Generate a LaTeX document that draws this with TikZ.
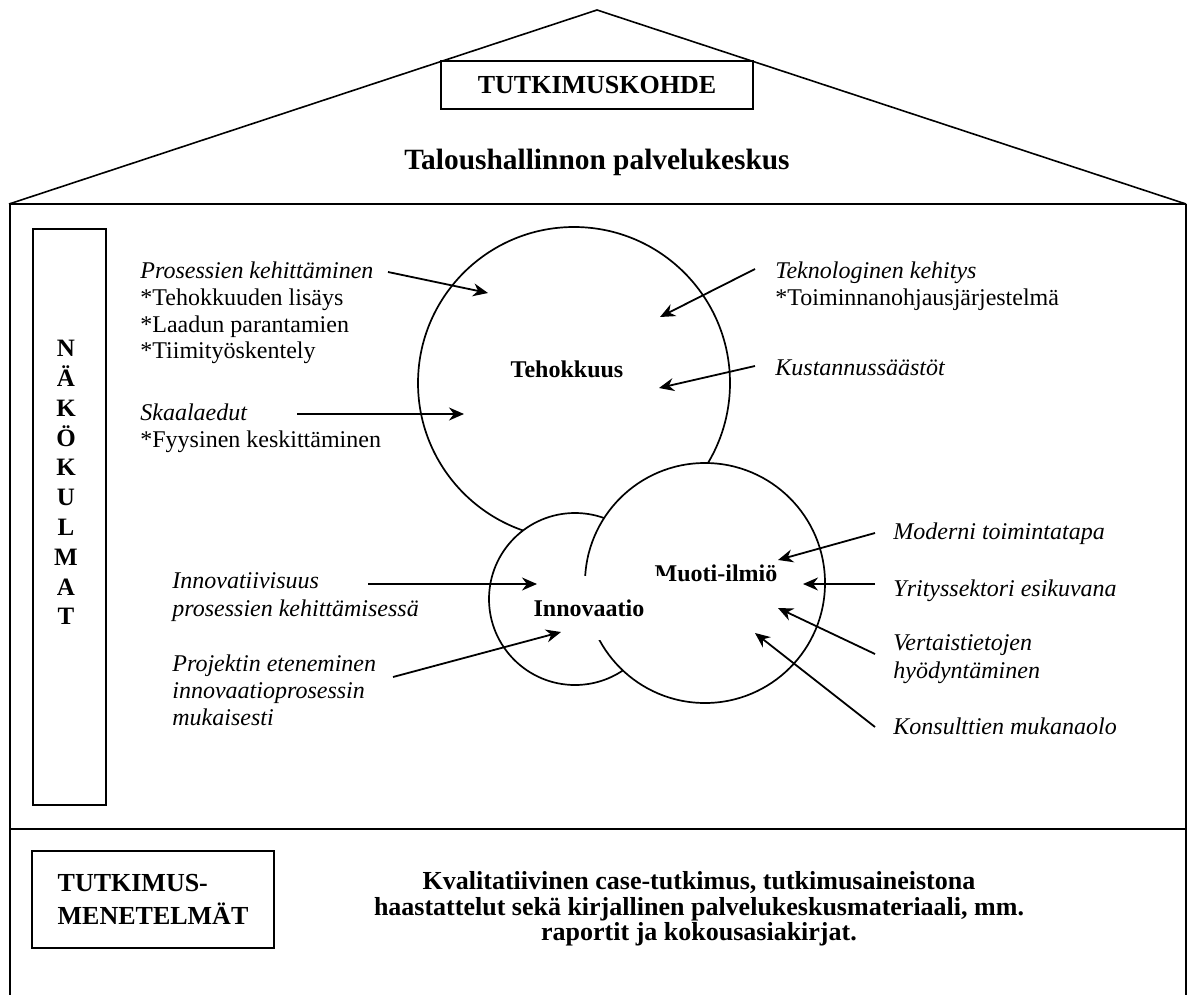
\documentclass[tikz,border=0pt]{standalone}
\usepackage{fontspec}
\setmainfont{Liberation Serif}
\usetikzlibrary{positioning, arrows.meta}
\tikzset{
  wall/.style={line width=1.1pt},
  roof/.style={line width=0.8pt},
  hbox/.style={draw, fill=white, line width=1pt, inner sep=0pt, font=\fontsize{13}{16.5}\selectfont\bfseries},
  circ/.style={circle, draw, fill=white, line width=0.85pt, inner sep=0pt},
  lbl/.style={font=\fontsize{12}{13.4}\selectfont\bfseries, inner sep=0pt},
  cause/.style={align=left, anchor=north west, inner sep=0pt, font=\fontsize{12}{13.4}\selectfont},
  into/.style={-{Stealth[length=7.5pt, width=6.5pt]}, line width=0.9pt},
}
\begin{document}
\begin{tikzpicture}[x=0.5pt, y=-0.5pt]
    \useasboundingbox (0,0) rectangle (1192,995);
    \draw[roof] (9,204) -- (597,10) -- (1186,204);
    \draw[wall] (9,204) -- (1186,204);
    \draw[wall] (10,204) -- (10,995);
    \draw[wall] (1186,204) -- (1186,995);
    \draw[wall] (10,829) -- (1186,829);
    \node[hbox, minimum width=156pt, minimum height=24pt] (kohde) at (597,85) {TUTKIMUSKOHDE};
    \node[font=\fontsize{14.7}{16}\selectfont\bfseries, inner sep=0pt] (keskus) at (597,162) {Taloushallinnon palvelukeskus};
    \node[draw, line width=1pt, minimum width=36.5pt, minimum height=288pt, inner sep=0pt] (nakoBox) at (69.5,517) {};
    \node[lbl, align=center, anchor=north, font=\fontsize{12.5}{14.9}\selectfont\bfseries] (nako) at (66,340) {N\\Ä\\K\\Ö\\K\\U\\L\\M\\A\\T};
    % circles
    \node[circ, minimum size=156pt] (tehoC) at (574,383) {};
    \node[circ, minimum size=86pt] (innoC) at (575,599) {};
    \node[circ, minimum size=120pt] (muotiC) at (705,583) {};
    \node[lbl] (tehoT) at (567,369) {Tehokkuus};
    \node[lbl, anchor=base] (muotiT) at (716,581) {Muoti-ilmiö};
    \node[lbl, fill=white, minimum width=80pt, minimum height=32pt] (innoT) at (589,608) {Innovaatio};
    % causes
    \node[cause] (pros) at (140,261.5) {\textit{Prosessien kehittäminen}\\{}*Tehokkuuden lisäys\\{}*Laadun parantamien\\{}*Tiimityöskentely};
    \node[cause] (skaala) at (140,403.5) {\textit{Skaalaedut}\\{}*Fyysinen keskittäminen};
    \node[cause] (tekno) at (775,261.5) {\textit{Teknologinen kehitys}\\{}*Toiminnanohjausjärjestelmä};
    \node[cause] (kust) at (775,359.5) {\textit{Kustannussäästöt}};
    \node[cause, font=\fontsize{12}{13.6}\selectfont\itshape] (innov) at (172,572.5) {Innovatiivisuus\\prosessien kehittämisessä};
    \node[cause, font=\fontsize{12}{13.6}\selectfont\itshape] (proj) at (172,654.5) {Projektin eteneminen\\innovaatioprosessin\\mukaisesti};
    \node[cause, font=\fontsize{12}{13.6}\selectfont\itshape] (moder) at (893,522.5) {Moderni toimintatapa};
    \node[cause, font=\fontsize{12}{13.6}\selectfont\itshape] (yritys) at (893,579.5) {Yrityssektori esikuvana};
    \node[cause, font=\fontsize{12}{13.6}\selectfont\itshape] (vert) at (893,634.5) {Vertaistietojen\\hyödyntäminen};
    \node[cause, font=\fontsize{12}{13.6}\selectfont\itshape] (kons) at (893,717.5) {Konsulttien mukanaolo};
    % arrow ends
    \coordinate (prosS) at (388,272);   \coordinate (prosE) at (488,293);
    \coordinate (skaalaS) at (297,414); \coordinate (skaalaE) at (464,414);
    \coordinate (teknoS) at (755,269);  \coordinate (teknoE) at (660,317);
    \coordinate (kustS) at (755,366);   \coordinate (kustE) at (659,388);
    \coordinate (innovS) at (368,584);  \coordinate (innovE) at (537,584);
    \coordinate (projS) at (393,677);   \coordinate (projE) at (561,632);
    \coordinate (moderS) at (875,533);  \coordinate (moderE) at (778,560);
    \coordinate (yritysS) at (875,584); \coordinate (yritysE) at (803,584);
    \coordinate (vertS) at (875,654);   \coordinate (vertE) at (778,608);
    \coordinate (konsS) at (875,727);   \coordinate (konsE) at (755,633);
    \draw[into] (prosS)--(prosE);\draw[into] (skaalaS)--(skaalaE);\draw[into] (teknoS)--(teknoE);\draw[into] (kustS)--(kustE);
    \draw[into] (innovS)--(innovE);\draw[into] (projS)--(projE);
    \draw[into] (moderS)--(moderE);\draw[into] (yritysS)--(yritysE);\draw[into] (vertS)--(vertE);\draw[into] (konsS)--(konsE);
    % methods
    \node[hbox, align=left, minimum width=121pt, minimum height=48.5pt] (menet) at (153,899) {TUTKIMUS-\\MENETELMÄT};
    \node[font=\fontsize{13}{12.8}\selectfont\bfseries, align=center, inner sep=0pt] (aineisto) at (699,909) {Kvalitatiivinen case-tutkimus, tutkimusaineistona\\haastattelut sekä kirjallinen palvelukeskusmateriaali, mm.\\raportit ja kokousasiakirjat.};
  \end{tikzpicture}
\end{document}
